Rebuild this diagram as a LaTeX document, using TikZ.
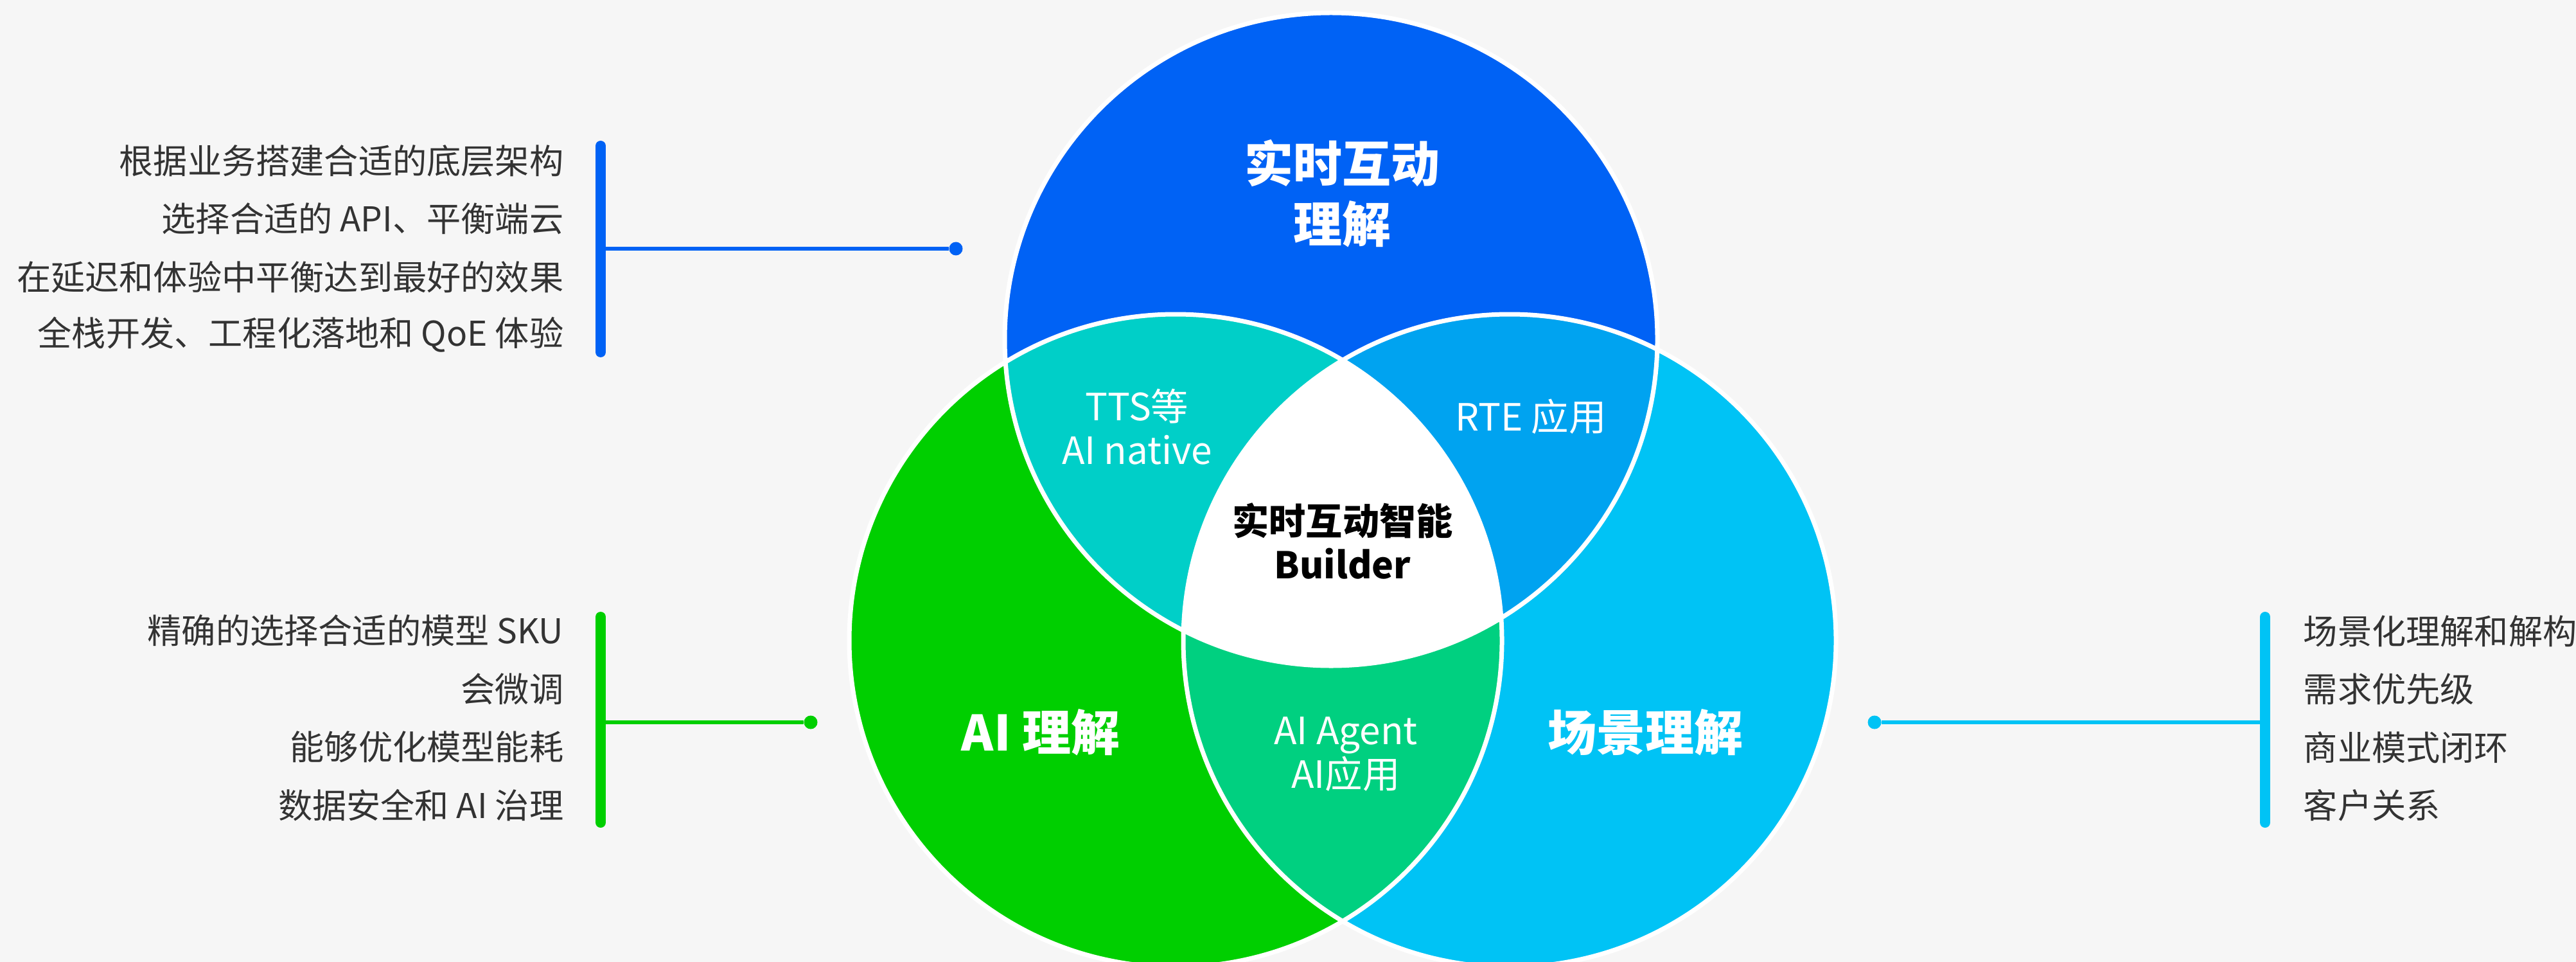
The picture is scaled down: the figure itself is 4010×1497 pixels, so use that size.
\documentclass[tikz,border=0pt]{standalone}
\usepackage{fontspec}
\setmainfont{Noto Sans CJK SC}

\definecolor{bg}{HTML}{F6F6F6}
\definecolor{rtc}{HTML}{0062F5}
\definecolor{aic}{HTML}{00CF00}
\definecolor{scc}{HTML}{00C3F5}
\definecolor{rtai}{HTML}{00CFC8}
\definecolor{rtsc}{HTML}{00A3F0}
\definecolor{aisc}{HTML}{00D080}
\definecolor{txt}{HTML}{333333}

\begin{document}
\begin{tikzpicture}[x = 0.25pt, y = -0.25pt,
        big/.style = {text = white, font = \bfseries\fontsize{19}{23.5}\selectfont, align = center},
        mid/.style = {text = white, font = \fontsize{14.6}{17}\selectfont, align = center},
        note/.style = {text = txt, font = \fontsize{13.3}{16}\selectfont, inner sep = 0},
        bar/.style = {line width = 4pt, line cap = round},
        link/.style = {line width = 1.4pt},
        dot/.style = {circle, fill, inner sep = 0, minimum size = 5.25pt}]
    \useasboundingbox (0, 0) rectangle (4010, 1497);
    \clip (0, 0) rectangle (4010, 1497);
    \fill[bg] (0, 0) rectangle (4010, 1497);

    % the three circles
    \coordinate (ct) at (2072, 528);
    \coordinate (cl) at (1830, 997);
    \coordinate (cr) at (2350, 997);
    \fill[rtc] (ct) circle (127pt);
    \fill[aic] (cl) circle (127pt);
    \fill[scc] (cr) circle (127pt);
    \begin{scope}
        \clip (ct) circle (127pt);
        \fill[rtai] (cl) circle (127pt);
        \fill[rtsc] (cr) circle (127pt);
    \end{scope}
    \begin{scope}
        \clip (cl) circle (127pt);
        \fill[aisc] (cr) circle (127pt);
        \clip (ct) circle (127pt);
        \fill[white] (cr) circle (127pt);
    \end{scope}
    \draw[white, line width = 1.75pt] (ct) circle (127pt) (cl) circle (127pt) (cr) circle (127pt);

    \path
        (2089, 301) node (rt) [big] {实时互动\\理解}
        (1620, 1140) node (ai) [big] {AI 理解}
        (2561, 1140) node (sc) [big] {场景理解}
        (1770, 664) node (rtai) [mid] {TTS等\\AI native}
        (2383, 648) node (rtsc) [mid] {RTE 应用}
        (2095, 1174) node (aisc) [mid] {AI Agent\\AI应用}
        (2090, 842) node (core) [mid, text = black, font = \bfseries\fontsize{14.3}{17.2}\selectfont] {实时互动智能\\Builder}
    ;

    % notes on the left and right
    \path
        (878, 250) node (rt1) [note, anchor = east] {根据业务搭建合适的底层架构}
        (878, 340) node (rt2) [note, anchor = east] {选择合适的 API、平衡端云}
        (878, 431) node (rt3) [note, anchor = east] {在延迟和体验中平衡达到最好的效果}
        (878, 521) node (rt4) [note, anchor = east] {全栈开发、工程化落地和 QoE 体验}

        (878, 981) node (ai1) [note, anchor = east] {精确的选择合适的模型 SKU}
        (878, 1072) node (ai2) [note, anchor = east] {会微调}
        (878, 1162) node (ai3) [note, anchor = east] {能够优化模型能耗}
        (878, 1253) node (ai4) [note, anchor = east] {数据安全和 AI 治理}

        (3585, 982) node (sc1) [note, anchor = west] {场景化理解和解构}
        (3585, 1072) node (sc2) [note, anchor = west] {需求优先级}
        (3585, 1163) node (sc3) [note, anchor = west] {商业模式闭环}
        (3585, 1253) node (sc4) [note, anchor = west] {客户关系}
    ;

    % brackets and leaders
    \coordinate (rttop) at (935, 227);
    \coordinate (rtbot) at (935, 548);
    \coordinate (rtmid) at (935, 387);
    \node (rtdot) [dot, rtc] at (1488, 387) {};
    \draw[rtc, bar] (rttop) -- (rtbot);
    \draw[rtc, link] (rtmid) -- (rtdot);

    \coordinate (aitop) at (935, 960);
    \coordinate (aibot) at (935, 1280);
    \coordinate (aimid) at (935, 1124);
    \node (aidot) [dot, aic] at (1262, 1124) {};
    \draw[aic, bar] (aitop) -- (aibot);
    \draw[aic, link] (aimid) -- (aidot);

    \coordinate (sctop) at (3526, 960);
    \coordinate (scbot) at (3526, 1280);
    \coordinate (scmid) at (3526, 1124);
    \node (scdot) [dot, scc] at (2918, 1124) {};
    \draw[scc, bar] (sctop) -- (scbot);
    \draw[scc, link] (scdot) -- (scmid);
\end{tikzpicture}
\end{document}
